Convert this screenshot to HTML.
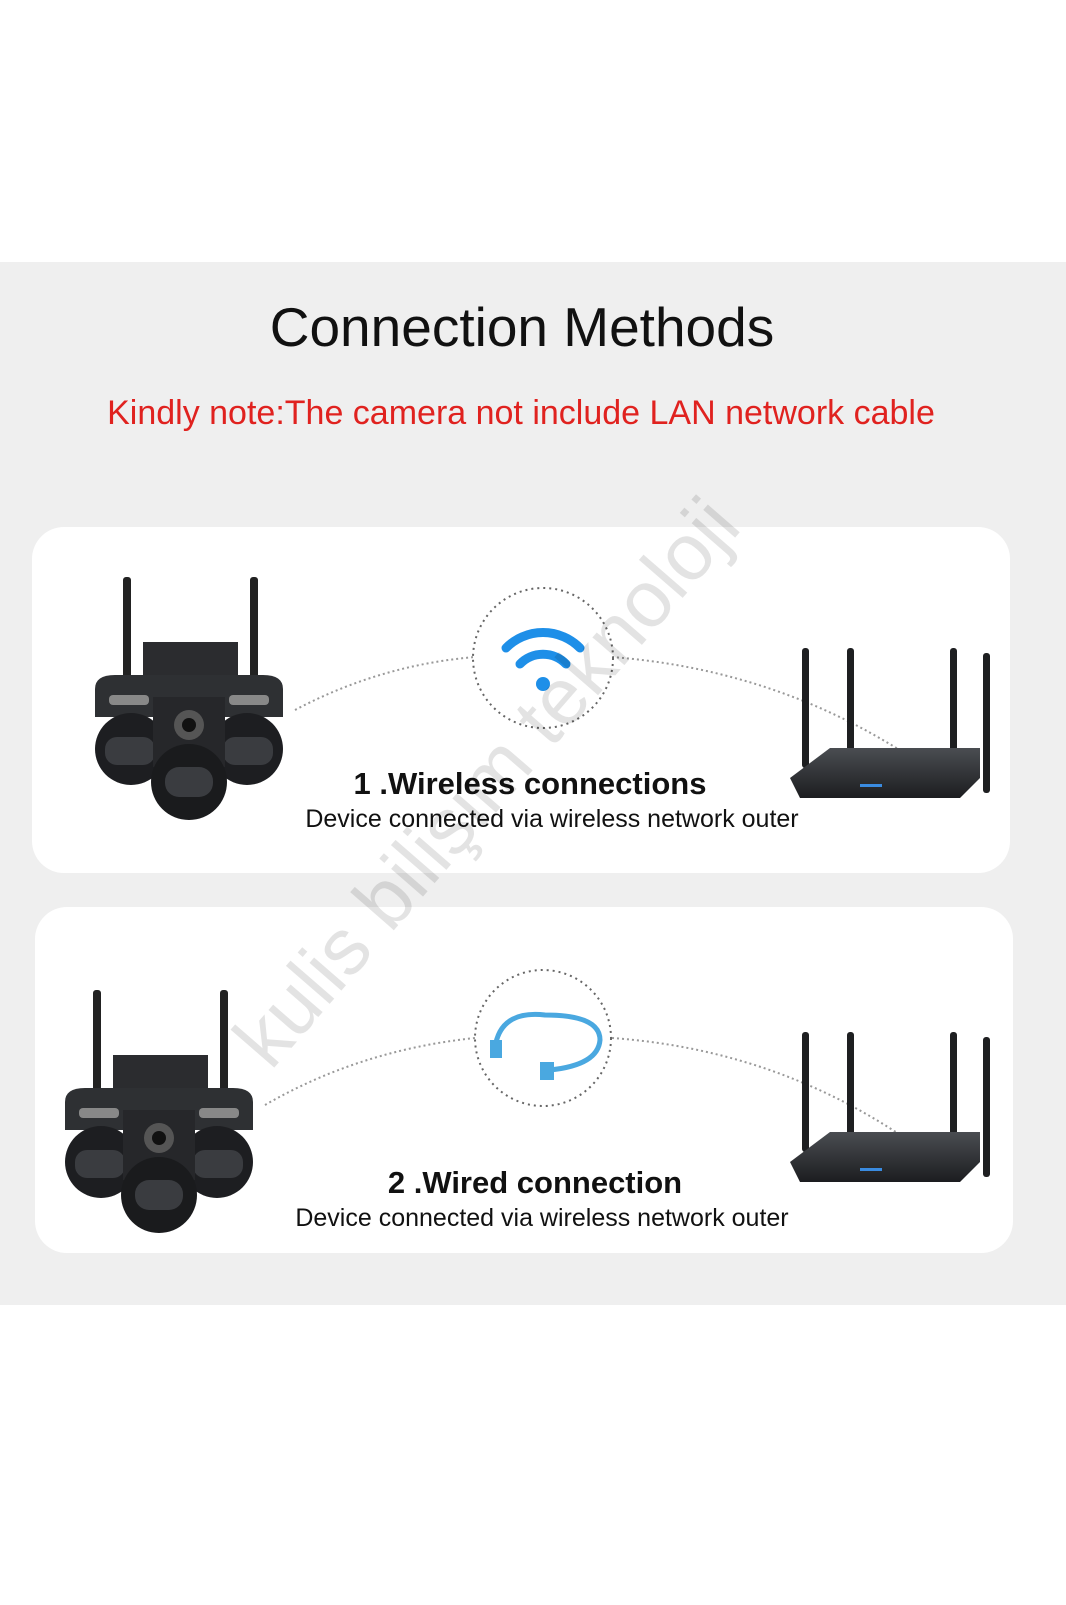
<!DOCTYPE html>
<html><head><meta charset="utf-8">
<style>
html,body{margin:0;padding:0;background:#fff;}
body{width:1066px;height:1600px;overflow:hidden;}
</style></head>
<body>
<svg width="1066" height="1600" viewBox="0 0 1066 1600" xmlns="http://www.w3.org/2000/svg">
<defs>
<linearGradient id="rg" x1="0" y1="0" x2="0" y2="1"><stop offset="0" stop-color="#4a4d52"/><stop offset="1" stop-color="#1c1d20"/></linearGradient>
<g id="cam">
 <rect x="28" y="0" width="8" height="110" rx="3" fill="#222"/>
 <rect x="155" y="0" width="8" height="110" rx="3" fill="#222"/>
 <rect x="48" y="65" width="95" height="60" fill="#2b2c2f"/>
 <path d="M0 112 Q0 98 20 98 L168 98 Q188 98 188 112 L188 140 L0 140 Z" fill="#2e3033"/>
 <rect x="14" y="118" width="40" height="10" rx="4" fill="#888"/>
 <rect x="134" y="118" width="40" height="10" rx="4" fill="#888"/>
 <circle cx="36" cy="172" r="36" fill="#1d1e21"/>
 <circle cx="152" cy="172" r="36" fill="#1d1e21"/>
 <rect x="10" y="160" width="50" height="28" rx="12" fill="#3a3c40"/>
 <rect x="128" y="160" width="50" height="28" rx="12" fill="#3a3c40"/>
 <rect x="58" y="120" width="72" height="70" fill="#26272a"/>
 <circle cx="94" cy="148" r="15" fill="#555"/><circle cx="94" cy="148" r="7" fill="#111"/>
 <circle cx="94" cy="205" r="38" fill="#1a1b1d"/>
 <rect x="70" y="190" width="48" height="30" rx="14" fill="#3a3c40"/>
</g>
<g id="router">
 <rect x="12" y="0" width="7" height="120" rx="3" fill="#1e1f21"/>
 <rect x="57" y="0" width="7" height="110" rx="3" fill="#1e1f21"/>
 <rect x="160" y="0" width="7" height="110" rx="3" fill="#1e1f21"/>
 <rect x="193" y="5" width="7" height="140" rx="3" fill="#1e1f21"/>
 <path d="M0 130 L40 100 L190 100 L190 130 L170 150 L10 150 Z" fill="url(#rg)"/>
 <rect x="70" y="136" width="22" height="3" fill="#3a8be0"/>
</g>
</defs>
<rect x="0" y="262" width="1066" height="1043" fill="#efefef"/>
<text x="522" y="346" font-family="Liberation Sans, DejaVu Sans, sans-serif" font-size="55" text-anchor="middle" fill="#111">Connection Methods</text>
<text x="521" y="424" font-family="Liberation Sans, DejaVu Sans, sans-serif" font-size="34" text-anchor="middle" fill="#e0221f">Kindly note:The camera not include LAN network cable</text>

<rect x="32" y="527" width="978" height="346" rx="32" fill="#fff"/>
<rect x="35" y="907" width="978" height="346" rx="32" fill="#fff"/>

<path d="M295 710 Q380 665 475 657" stroke="#999" stroke-width="2" stroke-dasharray="2 3" fill="none"/>
<path d="M612 657 Q780 670 915 760" stroke="#999" stroke-width="2" stroke-dasharray="2 3" fill="none"/>
<circle cx="543" cy="658" r="70" fill="#fff" stroke="#666" stroke-width="2" stroke-dasharray="2 4"/>
<g fill="none" stroke="#1e8fe8" stroke-width="9" stroke-linecap="round">
<path d="M506 648 A52 52 0 0 1 580 648"/><path d="M520 664 A32 32 0 0 1 566 664"/>
</g>
<circle cx="543" cy="684" r="7" fill="#1e8fe8"/>
<use href="#cam" x="95" y="577"/>
<use href="#router" x="790" y="648"/>
<text x="530" y="794" font-family="Liberation Sans, DejaVu Sans, sans-serif" font-size="31" font-weight="bold" text-anchor="middle" fill="#111">1 .Wireless connections</text>
<text x="552" y="827" font-family="Liberation Sans, DejaVu Sans, sans-serif" font-size="25" text-anchor="middle" fill="#111">Device connected via wireless network outer</text>

<path d="M265 1105 Q360 1050 475 1038" stroke="#999" stroke-width="2" stroke-dasharray="2 3" fill="none"/>
<path d="M612 1038 Q780 1050 915 1145" stroke="#999" stroke-width="2" stroke-dasharray="2 3" fill="none"/>
<circle cx="543" cy="1038" r="68" fill="#fff" stroke="#666" stroke-width="2" stroke-dasharray="2 4"/>
<path d="M495 1048 Q500 1010 545 1015 Q600 1015 600 1040 Q598 1065 550 1070" stroke="#4aa8e0" stroke-width="5" fill="none"/>
<rect x="490" y="1040" width="12" height="18" fill="#4aa8e0"/>
<rect x="540" y="1062" width="14" height="18" fill="#4aa8e0"/>
<use href="#cam" x="65" y="990"/>
<use href="#router" x="790" y="1032"/>
<text x="535" y="1193" font-family="Liberation Sans, DejaVu Sans, sans-serif" font-size="31" font-weight="bold" text-anchor="middle" fill="#111">2 .Wired connection</text>
<text x="542" y="1226" font-family="Liberation Sans, DejaVu Sans, sans-serif" font-size="25" text-anchor="middle" fill="#111">Device connected via wireless network outer</text>

<text x="0" y="0" transform="translate(507 800) rotate(-49)" font-family="Liberation Sans, DejaVu Sans, sans-serif" font-size="80" text-anchor="middle" fill="#000" fill-opacity="0.11">kulis bilişim teknoloji</text>
</svg>
</body></html>
